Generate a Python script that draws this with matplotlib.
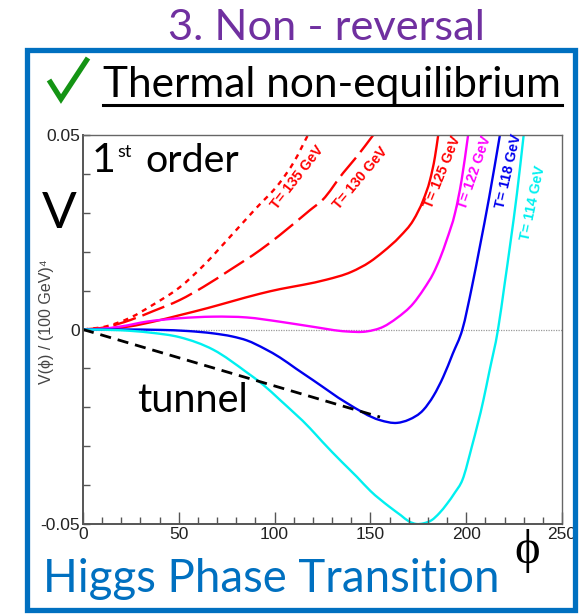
import matplotlib
matplotlib.use("Agg")
import matplotlib.pyplot as plt
from matplotlib.lines import Line2D
from matplotlib.patches import Rectangle, PathPatch
from matplotlib.path import Path

plt.rcParams["axes.unicode_minus"] = False

# ---- potential curves V(phi) in (100 GeV)^4, phi in GeV ----
phi_135 = [0, 12, 24.5, 37, 50.6, 63, 76.7, 90, 102.8, 110, 117.4]
v_135 = [0, 0.0008, 0.003, 0.0065, 0.0109, 0.0165, 0.0238, 0.031, 0.0378, 0.043, 0.05]

phi_130 = [0, 12, 24.5, 37, 50.6, 63, 76.7, 92.4, 102.8, 118.5, 125, 135.7, 143, 151.5]
v_130 = [0, 0.0006, 0.0024, 0.0048, 0.0076, 0.011, 0.0153, 0.0204, 0.0243, 0.0307, 0.0333,
         0.0402, 0.0445, 0.05]

phi_125 = [0, 10, 24.5, 36.5, 50.6, 65, 76.7, 92.4, 103, 115, 127, 140, 149.8, 156.7, 165.4,
           172.4, 177.6, 181.1, 183.7, 185.4]
v_125 = [0, 0.0002, 0.0008, 0.002, 0.0037, 0.0055, 0.0071, 0.0092, 0.0104, 0.0115, 0.0128,
         0.0148, 0.0174, 0.020, 0.0239, 0.0281, 0.0333, 0.0384, 0.0444, 0.05]

phi_122 = [0, 10, 20, 33, 50.6, 68, 85.4, 102.8, 120, 137.5, 148, 156.7, 163.7, 172.4, 178,
           182.8, 186.5, 189.8, 194.2, 197.6, 201]
v_122 = [0, 0.0002, 0.0008, 0.002, 0.0029, 0.0033, 0.0031, 0.002, 0.0007, -0.0005, -0.0005,
         0.0007, 0.0029, 0.0067, 0.0105, 0.0144, 0.0185, 0.023, 0.030, 0.0384, 0.05]

phi_118 = [0, 20, 40, 55, 68, 78, 85.5, 95, 102.8, 111, 120, 137.7, 155, 164, 170, 177.6, 183,
           188, 193, 198, 203, 207, 212, 217.6]
v_118 = [0, 0, -0.0001, -0.0004, -0.0010, -0.0018, -0.0028, -0.0050, -0.0072, -0.0100, -0.013,
         -0.0189, -0.0233, -0.024, -0.0232, -0.0207, -0.017, -0.0122, -0.0062, 0, 0.011,
         0.021, 0.034, 0.05]

phi_114 = [0, 20, 35, 50.6, 68, 85.4, 94, 102.8, 118.5, 125, 135, 143, 150, 160, 166, 170, 174,
           178, 182, 186, 190, 194, 198, 203, 209, 212, 216.6, 220, 223, 226.5, 230]
v_114 = [0, -0.0002, -0.0008, -0.0020, -0.0052, -0.0110, -0.0142, -0.0181, -0.0254, -0.0289,
         -0.034, -0.0379, -0.0415, -0.0456, -0.0478, -0.0493, -0.05, -0.0498, -0.049, -0.0472,
         -0.0448, -0.042, -0.0387, -0.030, -0.0181, -0.011, 0, 0.0115, 0.022, 0.035, 0.05]

# tunnelling path from the symmetric vacuum
phi_tunnel = [0, 155]
v_tunnel = [0, -0.0225]

temps = ["T= 135 GeV", "T= 130 GeV", "T= 125 GeV", "T= 122 GeV", "T= 118 GeV", "T= 114 GeV"]

x_ticks = [0, 50, 100, 150, 200, 250]
x_tick_labels = ["0", "50", "100", "150", "200", "250"]
y_ticks = [-0.05, 0, 0.05]
y_tick_labels = ["-0.05", "0", "0.05"]

W, H = 585, 615
fig = plt.figure(figsize=(W / 100, H / 100), dpi=100)
renderer = fig.canvas.get_renderer()


def fx(x):
    return x / W


def fy(y):
    return 1 - y / H


def put(x, y, s, size=20, width=None, **kw):
    t = fig.text(fx(x), fy(y), s, fontsize=size, **kw)
    if width:
        bb = t.get_window_extent(renderer)
        t.set_fontsize(size * width / bb.width)
    return t


def smooth_path(xs, ys):
    """Cubic Bezier path passing through every (x, y) point, tangents from neighbours."""
    n = len(xs)
    slopes = []
    for i in range(n):
        if i == 0:
            m = (ys[1] - ys[0]) / (xs[1] - xs[0])
        elif i == n - 1:
            m = (ys[-1] - ys[-2]) / (xs[-1] - xs[-2])
        else:
            h0, h1 = xs[i] - xs[i - 1], xs[i + 1] - xs[i]
            d0, d1 = (ys[i] - ys[i - 1]) / h0, (ys[i + 1] - ys[i]) / h1
            m = (d0 * h1 + d1 * h0) / (h0 + h1)
        slopes.append(m)
    verts = [(xs[0], ys[0])]
    codes = [Path.MOVETO]
    for i in range(n - 1):
        h = xs[i + 1] - xs[i]
        verts += [(xs[i] + h / 3, ys[i] + slopes[i] * h / 3),
                  (xs[i + 1] - h / 3, ys[i + 1] - slopes[i + 1] * h / 3),
                  (xs[i + 1], ys[i + 1])]
        codes += [Path.CURVE4] * 3
    return Path(verts, codes)


ax = fig.add_axes([fx(83), fy(524), fx(562) - fx(83), fy(135) - fy(524)])
ax.set_xlim(0, 250)
ax.set_ylim(-0.05, 0.05)

red, mag, blue, cyan = "#FF0000", "#FF00FF", "#0000EE", "#00F0F0"
lw = 1.7
curves = [
    (phi_135, v_135, red, (0, (2.2, 2.2))),
    (phi_130, v_130, red, (0, (10, 3))),
    (phi_125, v_125, red, "solid"),
    (phi_122, v_122, mag, "solid"),
    (phi_118, v_118, blue, "solid"),
    (phi_114, v_114, cyan, "solid"),
]
for xs, ys, c, ls in curves:
    ax.add_patch(PathPatch(smooth_path(xs, ys), facecolor="none", edgecolor=c, lw=lw,
                           linestyle=ls, clip_on=True))
ax.plot(phi_tunnel, v_tunnel, color="black", lw=2.0, ls=(0, (4, 2.5)))
ax.axhline(0, color="#9a9a9a", lw=0.9, ls=(0, (1, 1)), zorder=0)

# axis styling
for side in ("left", "bottom"):
    ax.spines[side].set_color("#555555")
    ax.spines[side].set_linewidth(1.4)
for side in ("top", "right"):
    ax.spines[side].set_color("#666666")
    ax.spines[side].set_linewidth(1.0)

ax.set_xticks(x_ticks)
ax.set_xticklabels(x_tick_labels)
ax.set_xticks(range(0, 251, 10), minor=True)
ax.set_yticks(y_ticks)
ax.set_yticklabels(y_tick_labels)
ax.set_yticks([i / 100 for i in range(-5, 6)], minor=True)
ax.tick_params(axis="x", which="major", direction="in", length=9, width=1, color="#555555",
               labelsize=12.5, labelcolor="#222222", pad=2)
ax.tick_params(axis="x", which="minor", direction="in", length=5, width=1, color="#555555")
ax.tick_params(axis="y", which="both", direction="in", length=5, width=1, color="#555555",
               labelsize=12.5, labelcolor="#222222", pad=2)
for lab in ax.get_xticklabels() + ax.get_yticklabels():
    lab.set_family("Liberation Sans")

# curve labels
label_spec = [
    (297, 177, 52, red),
    (361, 178, 50, red),
    (443, 172, 68, red),
    (475, 173, 71, mag),
    (509, 171, 77, blue),
    (533, 203, 78, cyan),
]
for text, (x, y, ang, c) in zip(temps, label_spec):
    fig.text(fx(x), fy(y), text, color=c, rotation=ang, rotation_mode="anchor",
             ha="center", va="center", fontsize=10.2, fontweight="bold",
             family="Liberation Sans")

# y axis title
fig.text(fx(47), fy(322), "V(ϕ) / (100 GeV)⁴", rotation=90, ha="center", va="center",
         fontsize=11.5, color="#444444", family=["Liberation Sans", "DejaVu Sans"])

# slide text
sans = "Lato"
put(168, 40, "3. Non - reversal", size=26, width=317, color="#7030A0", family=sans)
put(103, 97, "Thermal non-equilibrium", size=28, width=459, color="black", family=sans)
fig.add_artist(Line2D([fx(103), fx(562)], [fy(104.5), fy(104.5)], color="black", lw=2.2))
fig.add_artist(Line2D([fx(49), fx(61), fx(88)], [fy(80), fy(99), fy(58)], color="#149414",
                      lw=3.8, solid_joinstyle="miter", solid_capstyle="butt"))
put(43, 592, "Higgs Phase Transition", size=28, width=457, color="#0070C0", family=sans)
put(59, 228, "V", size=37, color="black", family=sans, ha="center")
order = put(145, 172, "order", size=24, width=94, color="black", family=sans)
put(92, 172, "1", size=order.get_fontsize() * 1.05, color="black", family=sans)
put(117, 157, "st", size=13, color="black", family=sans)
put(137, 412, "tunnel", size=24, width=111, color="black", family=sans)
put(527, 551, "ϕ", size=35, color="black", family=["Liberation Serif", "DejaVu Serif"],
    ha="center", va="center")

# slide frame
fig.add_artist(Rectangle((fx(27), fy(610)), fx(575) - fx(27), fy(50) - fy(610),
                         transform=fig.transFigure, fill=False, edgecolor="#0070C0", lw=3.8))

fig.savefig("out.png", dpi=100)
